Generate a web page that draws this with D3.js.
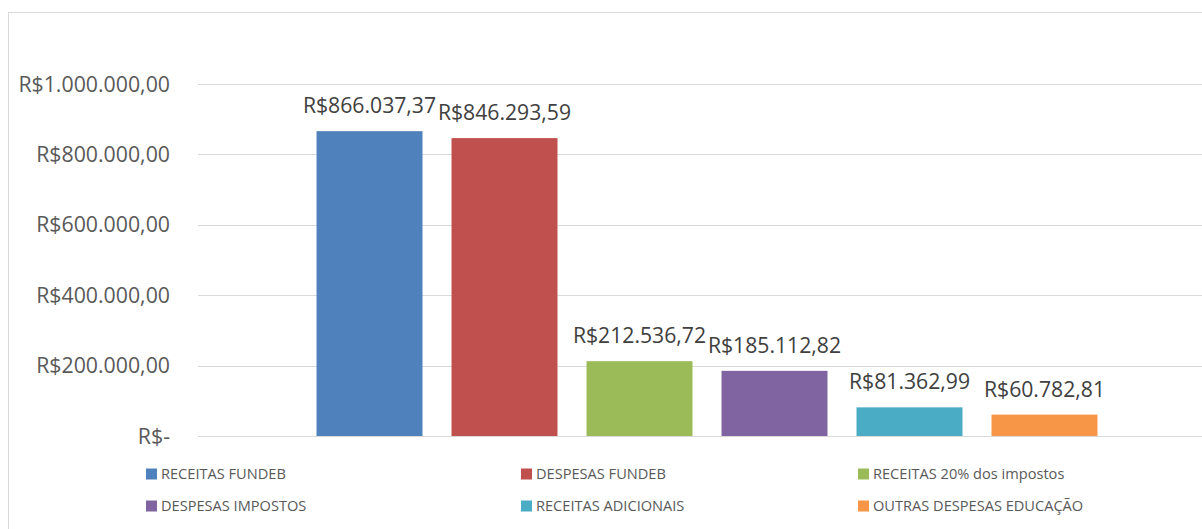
<!DOCTYPE html>
<html>
<head>
<meta charset="utf-8">
<script src="https://cdn.jsdelivr.net/npm/d3@7"></script>
<style>
  body { margin: 0; background: #fff; }
  svg { font-family: "Open Sans", sans-serif; }
</style>
</head>
<body>
<svg id="chart" width="1202" height="529"></svg>
<script>
const series = ["RECEITAS FUNDEB", "DESPESAS FUNDEB", "RECEITAS 20% dos impostos",
                "DESPESAS IMPOSTOS", "RECEITAS ADICIONAIS", "OUTRAS DESPESAS EDUCAÇÃO"]
const values = [866037.37, 846293.59, 212536.72, 185112.82, 81362.99, 60782.81]
const colorList = ["#4f81bd", "#c0504d", "#9bbb59", "#8064a2", "#4bacc6", "#f79646"]
const yTicks = [0, 200000, 400000, 600000, 800000, 1000000]

const svg = d3.select("#chart")
const plot = {left: 198, right: 1216, top: 84, bottom: 436}

const brl = v => {
  if (v === 0) return "R$-"
  const [i, d] = v.toFixed(2).split(".")
  return "R$" + i.replace(/\B(?=(\d{3})+(?!\d))/g, ".") + "," + d
}

// outer chart frame (only left/top visible in the picture)
svg.append("rect")
  .attr("x", 8.5).attr("y", 12.5).attr("width", 1220).attr("height", 540)
  .attr("fill", "none").attr("stroke", "#d9d9d9")

const x = d3.scaleBand()
  .domain(series)
  .range([plot.left, plot.right])
  .paddingInner(0.215)
  .paddingOuter(0.878)

const y = d3.scaleLinear()
  .domain([0, 1000000])
  .range([plot.bottom, plot.top])

const color = d3.scaleOrdinal().domain(series).range(colorList)

// gridlines
svg.append("g").selectAll("line")
  .data(yTicks)
  .join("line")
    .attr("x1", plot.left).attr("x2", 1202)
    .attr("y1", d => Math.round(y(d)) + 0.5).attr("y2", d => Math.round(y(d)) + 0.5)
    .attr("stroke", "#d9d9d9").attr("stroke-width", 1)

// y axis labels
svg.append("g").selectAll("text")
  .data(yTicks)
  .join("text")
    .attr("x", 170).attr("y", d => y(d))
    .attr("dy", "0.36em")
    .attr("text-anchor", "end")
    .style("font-size", "21.3px").style("fill", "#595959")
    .text(brl)

// bars
const bars = series.map((s, i) => ({s, v: values[i]}))
svg.append("g").selectAll("rect")
  .data(bars)
  .join("rect")
    .attr("x", d => x(d.s))
    .attr("width", x.bandwidth())
    .attr("y", d => y(d.v))
    .attr("height", d => y(0) - y(d.v))
    .attr("fill", d => color(d.s))

// data labels
svg.append("g").selectAll("text")
  .data(bars)
  .join("text")
    .attr("x", d => x(d.s) + x.bandwidth() / 2)
    .attr("y", d => y(d.v) - 18)
    .attr("text-anchor", "middle")
    .style("font-size", "21.2px").style("fill", "#404040")
    .text(d => brl(d.v))

// legend
const legendCols = [146, 521, 858], legendRows = [474, 506]
const lg = svg.append("g").selectAll("g")
  .data(series)
  .join("g")
    .attr("transform", (d, i) => `translate(${legendCols[i % 3]},${legendRows[Math.floor(i / 3)]})`)
lg.append("rect")
  .attr("x", 0).attr("y", -5.5).attr("width", 11).attr("height", 11)
  .attr("fill", d => color(d))
lg.append("text")
  .attr("x", 15).attr("y", 0).attr("dy", "0.36em")
  .style("font-size", "14.6px").style("fill", "#595959")
  .text(d => d)
</script>
</body>
</html>
